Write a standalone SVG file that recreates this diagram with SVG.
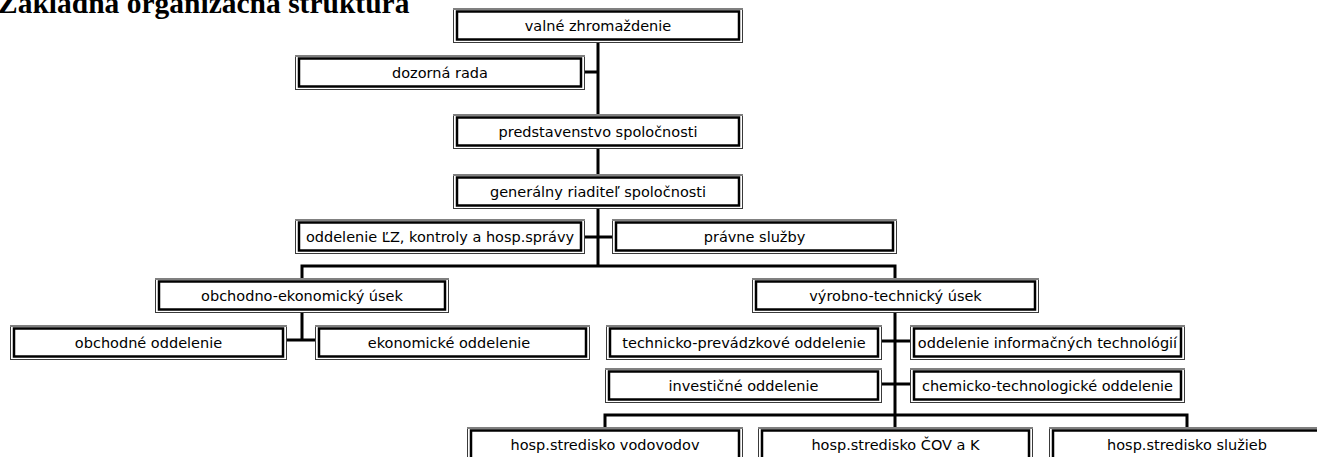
<svg xmlns="http://www.w3.org/2000/svg" width="1317" height="457" viewBox="0 0 1317 457">
<style>
.o{fill:#fff;stroke:#3a3a3a;stroke-width:1}
.i{fill:none;stroke:#000;stroke-width:2.5}
.t{fill:#808080}
.l{font-family:"DejaVu Sans","Verdana",sans-serif;font-size:14.5px;fill:#000;text-anchor:middle}
.c{stroke:#000;stroke-width:3;fill:none;stroke-linecap:square}
.h{font-family:"Liberation Serif","Times New Roman",serif;font-size:29.5px;font-weight:bold;fill:#000}
</style>
<rect width="1317" height="457" fill="#fff"/>
<text class="h" x="-2" y="13">Základná organizačná štruktúra</text>
<g id="connectors">
<path class="c" d="M598,43V114M585,72H598M598,148V175M598,208V266M585,237H612M302,266H895M302,266V278M895,266V278M302,313V340M287,340H315M895,313V427M882,341H910M882,384H910M605,415H1187M605,415V427M1187,415V427"/>
</g>
<g id="n1"><rect class="o" x="453.5" y="8.5" width="289" height="34"/><rect class="t" x="453" y="8" width="290" height="2"/><rect class="i" x="457" y="11.5" width="282" height="28"/><text class="l" x="598" y="31">valné zhromaždenie</text></g>
<g id="n2"><rect class="o" x="295.5" y="55.5" width="289" height="34"/><rect class="t" x="295" y="55" width="290" height="2"/><rect class="i" x="299" y="58.5" width="282" height="28"/><text class="l" x="440" y="78">dozorná rada</text></g>
<g id="n3"><rect class="o" x="453.5" y="114.5" width="289" height="34"/><rect class="t" x="453" y="114" width="290" height="2"/><rect class="i" x="457" y="117.5" width="282" height="28"/><text class="l" x="598" y="137">predstavenstvo spoločnosti</text></g>
<g id="n4"><rect class="o" x="453.5" y="174.5" width="289" height="34"/><rect class="t" x="453" y="174" width="290" height="2"/><rect class="i" x="457" y="177.5" width="282" height="28"/><text class="l" x="598" y="197">generálny riaditeľ spoločnosti</text></g>
<g id="n5"><rect class="o" x="295.5" y="219.5" width="289" height="34"/><rect class="t" x="295" y="219" width="290" height="2"/><rect class="i" x="299" y="222.5" width="282" height="28"/><text class="l" x="440" y="242">oddelenie ĽZ, kontroly a hosp.správy</text></g>
<g id="n6"><rect class="o" x="612.5" y="219.5" width="284" height="34"/><rect class="t" x="612" y="219" width="285" height="2"/><rect class="i" x="616" y="222.5" width="277" height="28"/><text class="l" x="754.5" y="242">právne služby</text></g>
<g id="n7"><rect class="o" x="155.5" y="278.5" width="293" height="34"/><rect class="t" x="155" y="278" width="294" height="2"/><rect class="i" x="159" y="281.5" width="286" height="28"/><text class="l" x="302" y="301">obchodno-ekonomický úsek</text></g>
<g id="n8"><rect class="o" x="752.5" y="278.5" width="286" height="34"/><rect class="t" x="752" y="278" width="287" height="2"/><rect class="i" x="756" y="281.5" width="279" height="28"/><text class="l" x="895.5" y="301">výrobno-technický úsek</text></g>
<g id="n9"><rect class="o" x="10.5" y="325.5" width="276" height="34"/><rect class="t" x="10" y="325" width="277" height="2"/><rect class="i" x="14" y="328.5" width="269" height="28"/><text class="l" x="148.5" y="348">obchodné oddelenie</text></g>
<g id="n10"><rect class="o" x="315.5" y="325.5" width="274" height="34"/><rect class="t" x="315" y="325" width="275" height="2"/><rect class="i" x="319" y="328.5" width="267" height="28"/><text class="l" x="449" y="348">ekonomické oddelenie</text></g>
<g id="n11"><rect class="o" x="606.5" y="325.5" width="275" height="34"/><rect class="t" x="606" y="325" width="276" height="2"/><rect class="i" x="610" y="328.5" width="268" height="28"/><text class="l" x="744" y="348">technicko-prevádzkové oddelenie</text></g>
<g id="n12"><rect class="o" x="910.5" y="325.5" width="274" height="34"/><rect class="t" x="910" y="325" width="275" height="2"/><rect class="i" x="914" y="328.5" width="267" height="28"/><text class="l" x="1047.5" y="348">oddelenie informačných technológií</text></g>
<g id="n13"><rect class="o" x="605.5" y="368.5" width="276" height="34"/><rect class="t" x="605" y="368" width="277" height="2"/><rect class="i" x="609" y="371.5" width="269" height="28"/><text class="l" x="743.5" y="391">investičné oddelenie</text></g>
<g id="n14"><rect class="o" x="910.5" y="368.5" width="274" height="34"/><rect class="t" x="910" y="368" width="275" height="2"/><rect class="i" x="914" y="371.5" width="267" height="28"/><text class="l" x="1047.5" y="391">chemicko-technologické oddelenie</text></g>
<g id="n15"><rect class="o" x="467.5" y="427.5" width="275" height="34"/><rect class="t" x="467" y="427" width="276" height="2"/><rect class="i" x="471" y="430.5" width="268" height="28"/><text class="l" x="605" y="450">hosp.stredisko vodovodov</text></g>
<g id="n16"><rect class="o" x="758.5" y="427.5" width="274" height="34"/><rect class="t" x="758" y="427" width="275" height="2"/><rect class="i" x="762" y="430.5" width="267" height="28"/><text class="l" x="895.5" y="450">hosp.stredisko ČOV a K</text></g>
<g id="n17"><rect class="o" x="1049.5" y="427.5" width="275" height="34"/><rect class="t" x="1049" y="427" width="276" height="2"/><rect class="i" x="1053" y="430.5" width="268" height="28"/><text class="l" x="1187" y="450">hosp.stredisko služieb</text></g>
</svg>
